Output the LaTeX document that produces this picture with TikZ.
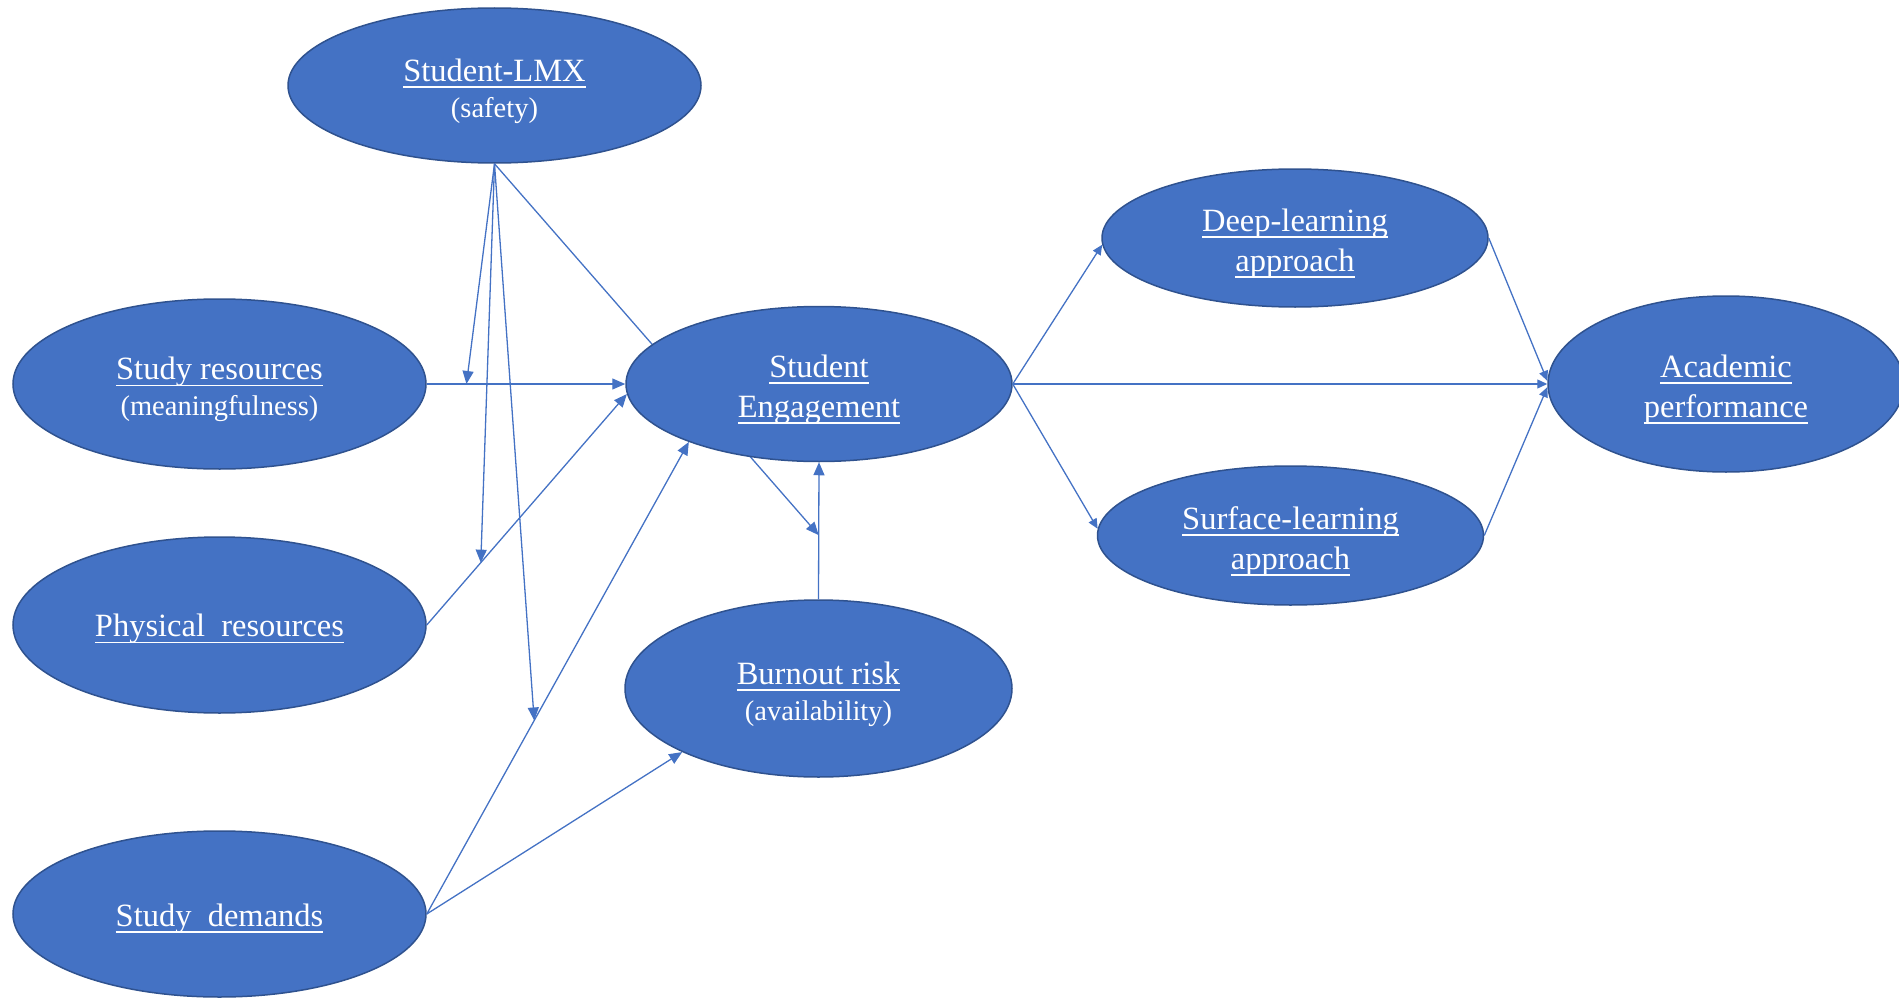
\documentclass[tikz,border=0pt]{standalone}
\usepackage{fontspec}
\setmainfont{Liberation Serif}
\usetikzlibrary{shapes.geometric,arrows.meta,calc,backgrounds}
\definecolor{ofblue}{HTML}{4472C4}
\definecolor{ofborder}{HTML}{2F528F}
\newcommand{\myul}[1]{\sbox0{#1}\rlap{\usebox0}\smash{\rule[-6.5pt]{\wd0}{1.6pt}}}
\newcommand{\subtxt}{\fontsize{28.5}{34}\selectfont}
\newcommand{\tp}{\rule{0pt}{34pt}}
\newcommand{\tq}{\rule{0pt}{31pt}}
\tikzset{
  ell/.style={ellipse, draw=ofborder, line width=1.5pt, fill=ofblue, text=white,
    inner sep=0pt, align=center, font=\fontsize{32.5}{40}\selectfont},
  conn/.style={draw=ofblue, line width=1.3pt},
  arr/.style={conn, -{Triangle[length=13pt,width=11pt]}},
  sarr/.style={conn, -{Triangle[length=10pt,width=9pt]}}
}
\begin{document}
\begin{tikzpicture}[x=1pt,y=-1pt]
\useasboundingbox (0,0) rectangle (1899,998);
% nodes
\node[ell, minimum width=413pt, minimum height=155pt] (lmx) at (494.5,85.5) {\tp\myul{Student-LMX}\\[-4pt]{\subtxt (safety)}};
\node[ell, minimum width=413pt, minimum height=170pt] (sr) at (219.5,384) {\tp\myul{Study resources}\\[-4pt]{\subtxt (meaningfulness)}};
\node[ell, minimum width=413pt, minimum height=176pt] (pr) at (219.5,625) {\tq\myul{Physical\ \ resources}};
\node[ell, minimum width=413pt, minimum height=166pt] (sd) at (219.5,914) {\tq\myul{Study\ \ demands}};
\node[ell, minimum width=386pt, minimum height=155pt] (se) at (819,384) {\tp\myul{Student}\\\myul{Engagement}};
\node[ell, minimum width=387pt, minimum height=177pt] (br) at (818.5,688.5) {\tp\myul{Burnout risk}\\[-4pt]{\subtxt (availability)}};
\node[ell, minimum width=386pt, minimum height=138pt] (dl) at (1295,238) {\tp\myul{Deep-learning}\\\myul{approach}};
\node[ell, minimum width=386pt, minimum height=139pt] (sl) at (1290.5,535.5) {\tp\myul{Surface-learning}\\\myul{approach}};
\node[ell, minimum width=356pt, minimum height=176pt] (ap) at (1726,384) {\tp\myul{Academic}\\\myul{performance}};
% points on connectors
\coordinate (m1) at ($(sr.east)!0.2!(se.west)$);
\coordinate (m2) at ($(pr.east)!0.27!(se.183)$);
\coordinate (m3) at ($(sd.east)!0.41!(se.204)$);
\coordinate (m4) at ($(br.north)!0.468!(se.south)$);
% connectors
\draw[arr] (sr.east) -- (se.west);
\draw[arr] (pr.east) -- (se.183);
\draw[arr] (sd.east) -- (se.204);
\draw[arr] (sd.east) -- (br.205);
\draw[arr] (br.north) -- (se.south);
\draw[sarr] (se.east) -- (dl.182);
\draw[sarr] (se.east) -- (sl.178);
\draw[sarr] (se.east) -- (ap.west);
\draw[sarr] (dl.east) -- (ap.179);
\draw[sarr] (sl.east) -- (ap.181);
\draw[arr] (lmx.south) -- (m1);
\draw[arr] (lmx.south) -- (m2);
\draw[arr] (lmx.south) -- (m3);
\begin{scope}[on background layer]
\draw[arr] (lmx.south) -- (m4);
\end{scope}
\end{tikzpicture}
\end{document}
